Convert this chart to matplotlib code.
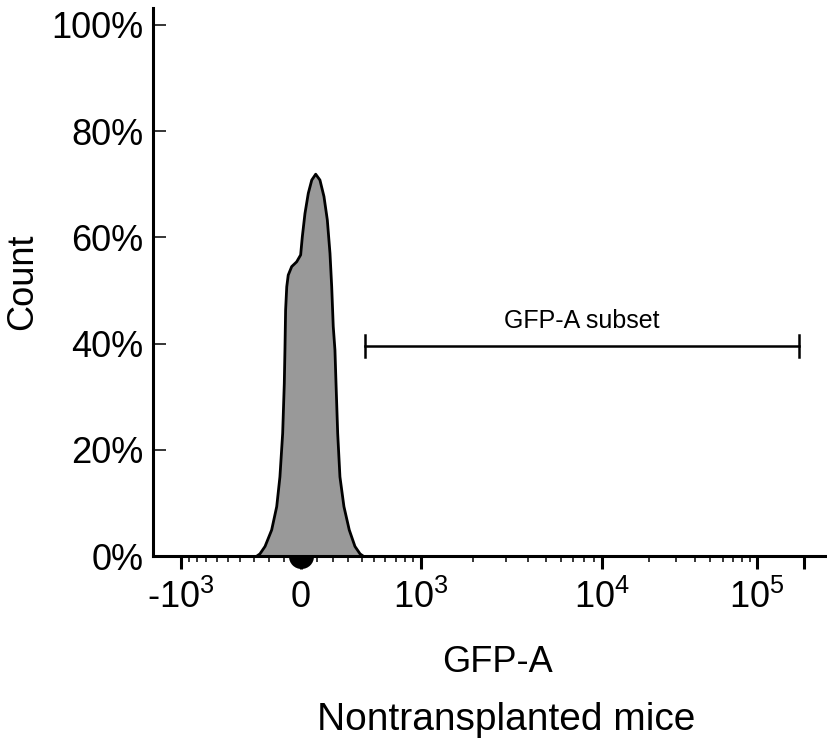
import numpy as np
import matplotlib
matplotlib.use("Agg")
import matplotlib.pyplot as plt

FONT = 'Liberation Sans'
plt.rcParams['font.family'] = [FONT, 'DejaVu Sans']
plt.rcParams['mathtext.fontset'] = 'custom'
plt.rcParams['mathtext.rm'] = FONT
plt.rcParams['mathtext.it'] = FONT + ':italic'
plt.rcParams['mathtext.bf'] = FONT + ':bold'

# ---------------- data ----------------
gfp_values = [-277, -257, -223, -180, -148, -128, -111, -101, -97, -93, -86, -77, -56,
              -26, -2, 8, 24, 44, 65, 89, 115, 140, 161, 178, 189, 199, 210, 217,
              228, 243, 270, 307, 348, 386, 409]
count_pct = [0, 0.4, 1.8, 4.9, 9.3, 14.9, 23.1, 32.5, 38.8, 46.3, 50.7, 52.9, 54.5,
             55.4, 56.7, 60.1, 64.5, 68.3, 70.8, 71.9, 70.8, 67.7, 63.3, 57.0, 50.7,
             43.2, 38.8, 32.5, 23.1, 14.9, 9.3, 4.9, 1.8, 0.4, 0]

gate_start = 424
gate_end = 186400
gate_level = 39.5
gate_label = "GFP-A subset"

y_ticks = [0, 20, 40, 60, 80, 100]
y_ticklabels = ["0%", "20%", "40%", "60%", "80%", "100%"]

x_major = [-1e3, 0, 1e3, 1e4, 1e5, 2e5]
x_major_labels = ['-$\\mathregular{10^3}$', '0', '$\\mathregular{10^3}$',
                  '$\\mathregular{10^4}$', '$\\mathregular{10^5}$', '']
x_minor = ([-900, -800, -700, -600, -500, -400, -300, -200, -100,
            100, 200, 300, 400, 500, 600, 700, 800, 900]
           + [2000, 3000, 4000, 5000, 6000, 7000, 8000, 9000]
           + [2e4, 3e4, 4e4, 5e4, 6e4, 7e4, 8e4, 9e4])

# ---------------- biexponential-like display scale ----------------
C = 500.0
ANCH_X = np.array([-1e3, 0.0, 1e3, 1e4, 1e5, 3e5])
ANCH_P = np.array([181.0, 301.0, 421.0, 602.0, 757.0, 831.0])
ANCH_U = np.arcsinh(ANCH_X / C)


def _interp_ext(x, xp, fp):
    x = np.asarray(x, dtype=float)
    shp = x.shape
    x = np.atleast_1d(x).ravel()
    y = np.interp(x, xp, fp)
    lo = x < xp[0]
    hi = x > xp[-1]
    y[lo] = fp[0] + (x[lo] - xp[0]) * (fp[1] - fp[0]) / (xp[1] - xp[0])
    y[hi] = fp[-1] + (x[hi] - xp[-1]) * (fp[-1] - fp[-2]) / (xp[-1] - xp[-2])
    return y.reshape(shp)


def fwd(x):
    return _interp_ext(np.arcsinh(np.asarray(x, dtype=float) / C), ANCH_U, ANCH_P)


def inv(p):
    return C * np.sinh(_interp_ext(p, ANCH_P, ANCH_U))


# ---------------- figure ----------------
fig = plt.figure(figsize=(8.27, 7.42), dpi=100)
ax = fig.add_axes([153 / 827, 1 - 556 / 742, (825 - 153) / 827, (556 - 8) / 742])
ax.set_xscale('function', functions=(fwd, inv))
ax.set_xlim(-1440, 274000)
ax.set_ylim(0, 103.2)

ax.fill_between(gfp_values, count_pct, 0, color='#999999', linewidth=0, zorder=2)
ax.plot(gfp_values, count_pct, color='black', linewidth=2.0, zorder=3,
        solid_joinstyle='round', solid_capstyle='round')

# gate bar
ax.plot([gate_start, gate_end], [gate_level, gate_level], color='black', lw=1.8, zorder=3)
for gx in (gate_start, gate_end):
    ax.plot([gx, gx], [gate_level - 2.1, gate_level + 2.1], color='black', lw=1.8, zorder=3)
mid = inv((fwd(gate_start) + fwd(gate_end)) / 2.0)
ax.text(float(mid), gate_level + 3.4, gate_label, ha='center', va='baseline', fontsize=18)

# zero marker
ax.plot([0], [0], marker='o', markersize=18, fillstyle='bottom', color='black',
        markerfacecoloralt='none', markeredgewidth=0, clip_on=False, zorder=5)

for s in ('top', 'right'):
    ax.spines[s].set_visible(False)
for s in ('left', 'bottom'):
    ax.spines[s].set_linewidth(2.2)

ax.set_yticks(y_ticks)
ax.set_yticklabels(y_ticklabels)
ax.tick_params(axis='y', direction='in', length=9.4, width=1.1, pad=7, labelsize=26)

ax.set_xticks(x_major)
ax.set_xticklabels(x_major_labels)
ax.set_xticks(x_minor, minor=True)
ax.tick_params(axis='x', which='major', direction='out', length=9.4, width=2.2,
               pad=8, labelsize=26)
ax.tick_params(axis='x', which='minor', direction='out', length=4.5, width=1.1)

ax.set_ylabel('Count', fontsize=26, labelpad=8)
fig.text(498 / 827, 1 - 662 / 742, 'GFP-A', ha='center', va='center', fontsize=26)
fig.text(506 / 827, 1 - 720 / 742, 'Nontransplanted mice', ha='center', va='center',
         fontsize=28)

fig.savefig('out.png', dpi=100)
